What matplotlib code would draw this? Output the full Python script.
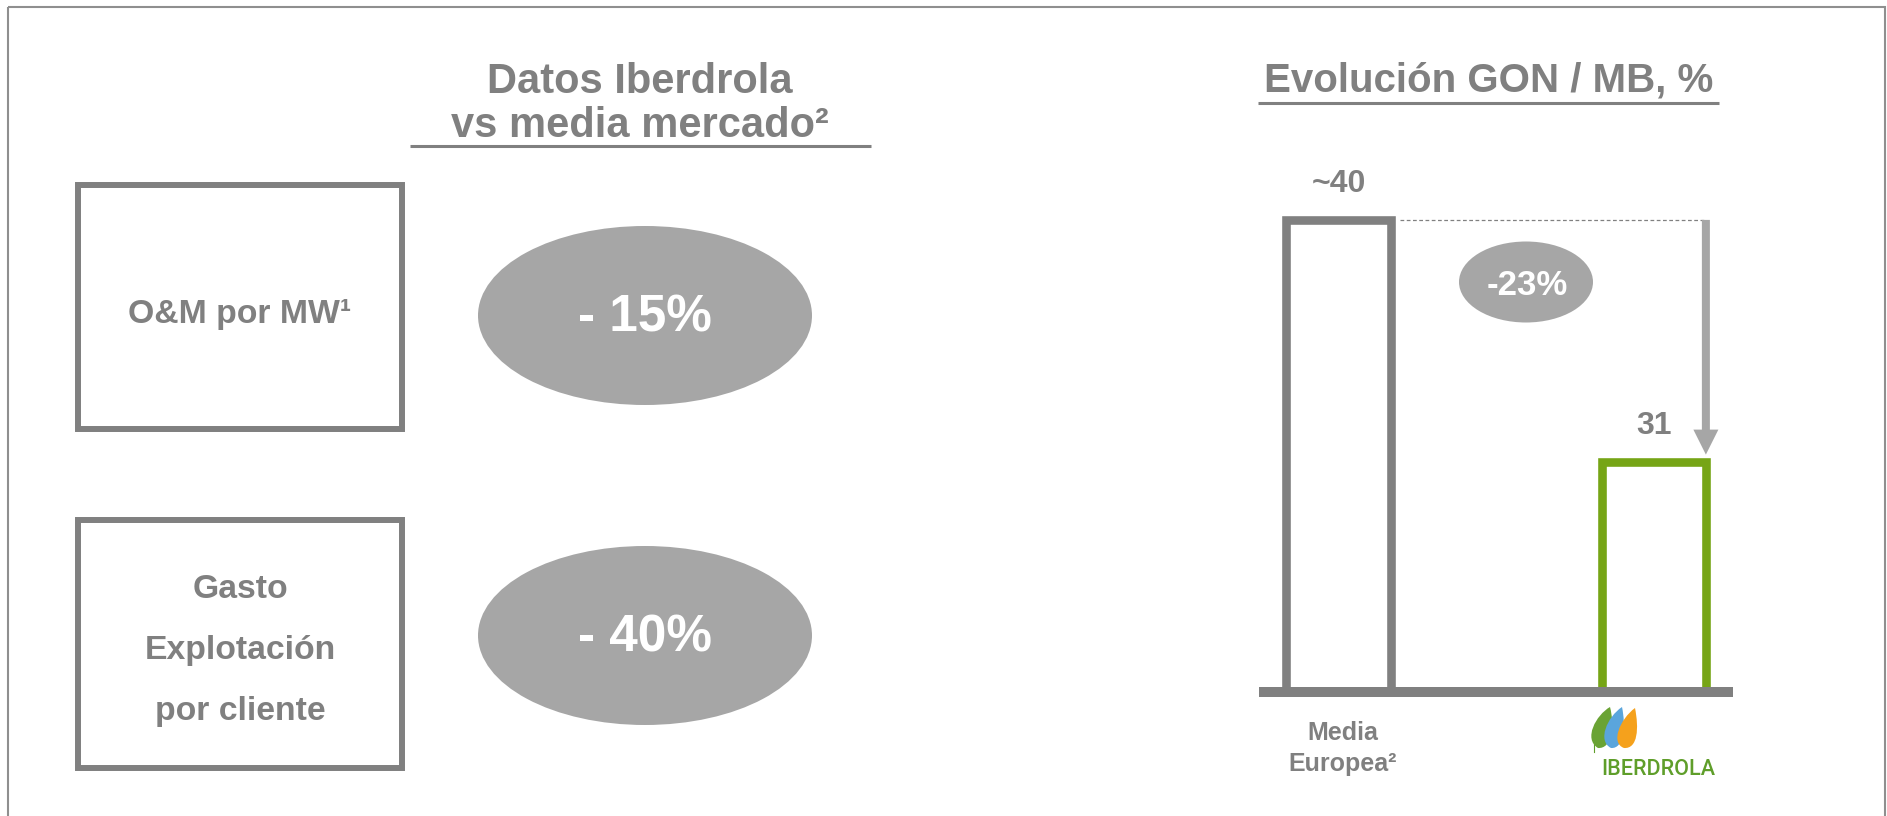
import matplotlib
matplotlib.use("Agg")
import matplotlib.pyplot as plt
from matplotlib.patches import Rectangle, Ellipse, PathPatch
from matplotlib.path import Path

W, H = 1887, 816
DPI = 100

# left panel: Iberdrola vs market average
left_title = ["Datos Iberdrola", "vs media mercado²"]
metric_labels = ["O&M por MW¹", "Gasto\nExplotación\npor cliente"]
metric_diffs = ["- 15%", "- 40%"]

# right panel: GON / MB
right_title = "Evolución GON / MB, %"
bar_categories = ["Media\nEuropea²", "IBERDROLA"]
bar_values = [40, 31]
bar_value_labels = ["~40", "31"]
change_label = "-23%"

GRAY = "#808080"
LIGHT = "#a6a6a6"
GREEN = "#76a516"
FONT = ["Liberation Sans", "DejaVu Sans"]

plt.rcParams["font.family"] = FONT
plt.rcParams["font.weight"] = "bold"

fig = plt.figure(figsize=(W / DPI, H / DPI), dpi=DPI)

# background axes in pixel units (y down) for the boxes and annotations
bg = fig.add_axes([0, 0, 1, 1])
bg.set_xlim(0, W)
bg.set_ylim(H, 0)
bg.axis("off")

# outer frame, bottom edge is below the picture
bg.add_patch(Rectangle((8, 7), 1877, 840, fill=False, ec="#8f8f8f", lw=1.5))

# ---- left panel ----
for txt, yb in zip(left_title, [93, 137]):
    bg.text(640, yb, txt, ha="center", va="baseline", fontsize=30, color=GRAY)
bg.plot([410, 871], [146, 146], color=GRAY, lw=2.2, solid_capstyle="butt")

row_box = [(182, 432), (517, 771)]
row_mid = [315.5, 635.5]
row_label_base = [323, 598]
for label, diff, (top, bot), ym, yb in zip(metric_labels, metric_diffs,
                                             row_box, row_mid, row_label_base):
    bg.add_patch(Rectangle((78, top + 3), 324, bot - top - 6,
                           fill=False, ec=GRAY, lw=4.3, joinstyle="miter"))
    for k, line in enumerate(label.split("\n")):
        bg.text(240, yb + k * 61, line, ha="center", va="baseline",
                fontsize=24.3, color=GRAY)
    bg.add_patch(Ellipse((645, ym), 334, 179, fc=LIGHT, lw=0))
    bg.text(645, ym + 16.5, diff, ha="center", va="baseline",
            fontsize=37, color="white")

# ---- right panel ----
bg.text(1489, 92, right_title, ha="center", va="baseline", fontsize=29, color=GRAY)
bg.plot([1258, 1719], [103, 103], color=GRAY, lw=2.2, solid_capstyle="butt")

bg.add_patch(Ellipse((1526, 282), 134, 81, fc=LIGHT, lw=0))
bg.text(1527, 295, change_label, ha="center", va="baseline", fontsize=25, color="white")

x0, x1 = 1259, 1733
y_base, y_top = 692, 150
ax = fig.add_axes([x0 / W, (H - y_base) / H, (x1 - x0) / W, (y_base - y_top) / H])
ax.patch.set_visible(False)

xpos = [0, 1]
bar_w = 0.33
ax.bar(xpos, bar_values, width=bar_w, fill=False,
       edgecolor=[GRAY, GREEN], linewidth=6.2)
ax.set_xlim(-0.252, 1.251)
ax.set_ylim(22.44, 42.6)

for s in ["left", "right", "top"]:
    ax.spines[s].set_visible(False)
ax.spines["bottom"].set_color(GRAY)
ax.spines["bottom"].set_linewidth(7.2)
ax.spines["bottom"].set_capstyle("butt")
ax.set_xticks([])
ax.set_yticks([])

for xp, v, lab in zip(xpos, bar_values, bar_value_labels):
    ax.annotate(lab, xy=(xp, v), xytext=(0, 28), textcoords="offset pixels",
                ha="center", va="baseline", fontsize=23, color=GRAY)

# dashed guide and arrow from the first bar level down to the second
right_edge = xpos[1] + bar_w / 2
ax.plot([xpos[0] + bar_w / 2 + 0.03, right_edge], [bar_values[0]] * 2,
        color=GRAY, lw=0.9, ls=(0, (3, 2)))
ax.annotate("", xy=(right_edge, bar_values[1] + 0.27), xytext=(right_edge, bar_values[0]),
            arrowprops=dict(arrowstyle="simple,head_length=1,head_width=1,tail_width=0.32",
                            mutation_scale=18, fc=LIGHT, ec="none", lw=0,
                            shrinkA=0, shrinkB=0))

# category labels under the axis
for k, line in enumerate(bar_categories[0].split("\n")):
    ax.annotate(line, xy=(xpos[0], 0), xycoords=("data", "axes fraction"),
                xytext=(4, -48 - 31 * k), textcoords="offset pixels",
                ha="center", va="baseline", fontsize=18, color=GRAY)

ax.annotate(bar_categories[1], xy=(xpos[1], 0), xycoords=("data", "axes fraction"),
            xytext=(4, -83), textcoords="offset pixels", ha="center", va="baseline",
            fontsize=15.5, color="#5f9e2a", fontweight="medium",
            family=["Roboto", "Liberation Sans", "DejaVu Sans"])

# Iberdrola leaves (logo)
def leaf(tip, bottom, c1, c2, c3, c4, color):
    verts = [tip, c1, c2, bottom, c3, c4, tip, tip]
    codes = [Path.MOVETO, Path.CURVE4, Path.CURVE4, Path.CURVE4,
             Path.CURVE4, Path.CURVE4, Path.CURVE4, Path.CLOSEPOLY]
    bg.add_patch(PathPatch(Path(verts, codes), fc=color, ec="none", zorder=5))

bg.plot([1594, 1594], [744, 752], color="#5f9e2a", lw=0.8, zorder=4)
leaf((1610, 707), (1598, 748), (1596, 715), (1583, 739), (1612, 749), (1615, 726), "#6aa334")
leaf((1622, 707), (1611, 748), (1607, 717), (1597, 741), (1624, 749), (1626, 726), "#5aa5dc")
leaf((1635, 708), (1624, 748), (1620, 719), (1610, 743), (1638, 749), (1639, 728), "#f5a11c")

fig.savefig("out.png", dpi=DPI)
